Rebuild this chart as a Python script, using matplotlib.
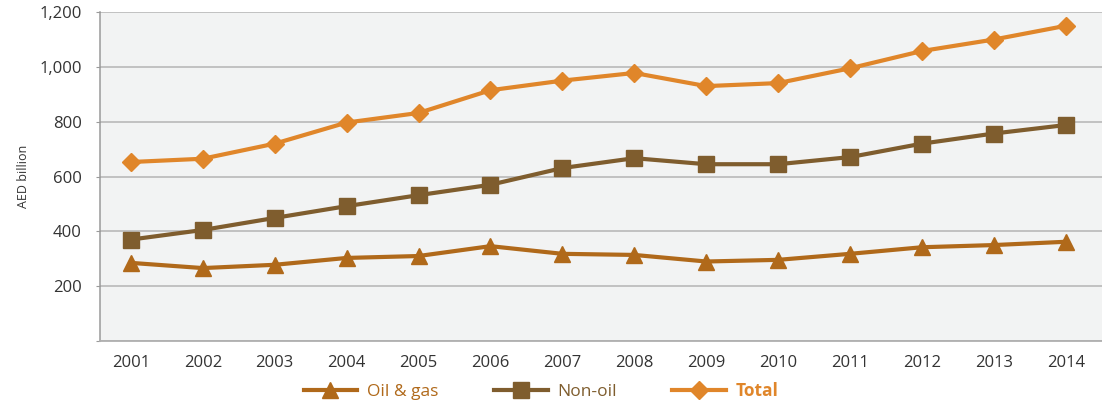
import matplotlib
matplotlib.use("Agg")
import matplotlib.pyplot as plt
from matplotlib.ticker import FuncFormatter

plt.rcParams['font.family'] = ['Open Sans', 'DejaVu Sans']

years = [2001, 2002, 2003, 2004, 2005, 2006, 2007, 2008, 2009, 2010, 2011, 2012, 2013, 2014]
oil_gas = [285, 266, 278, 303, 310, 346, 318, 314, 290, 296, 318, 342, 350, 362]
non_oil = [370, 405, 449, 492, 532, 570, 631, 667, 645, 645, 671, 720, 757, 788]
total = [653, 665, 720, 797, 832, 915, 950, 978, 930, 941, 995, 1058, 1100, 1150]

c_oil = '#b0691a'
c_non = '#7f5d2e'
c_tot = '#e0862a'

fig = plt.figure(figsize=(11.02, 4.04), dpi=100)
ax = fig.add_axes([0.0907, 0.156, 0.909, 0.814])
ax.set_facecolor('#f2f3f3')

x = list(range(len(years)))
l1, = ax.plot(x, oil_gas, color=c_oil, lw=3, marker='^', ms=12, label='Oil & gas')
l2, = ax.plot(x, non_oil, color=c_non, lw=3, marker='s', ms=11, label='Non-oil')
l3, = ax.plot(x, total, color=c_tot, lw=3, marker='D', ms=9.5, label='Total')

ax.set_ylim(0, 1200)
ax.set_yticks([0, 200, 400, 600, 800, 1000, 1200])
ax.yaxis.set_major_formatter(FuncFormatter(lambda v, p: '' if v == 0 else f'{int(v):,}'))
ax.set_xlim(-0.43, len(years) - 1 + 0.5)
ax.set_xticks(x)
ax.set_xticklabels([str(y) for y in years])

ax.grid(axis='y', color='#bdbdbd', lw=1.3)
ax.set_axisbelow(True)
for s in ['top', 'right']:
    ax.spines[s].set_visible(False)
ax.spines['left'].set_color('#9a9a9a')
ax.spines['bottom'].set_color('#b0b0b0')
ax.spines['left'].set_linewidth(1.1)
ax.spines['bottom'].set_linewidth(1.3)
ax.tick_params(axis='y', length=3, color='#9a9a9a', pad=10, labelsize=12, labelcolor='#333333')
ax.tick_params(axis='x', length=0, pad=10, labelsize=12, labelcolor='#333333')
ax.set_ylabel('AED billion', fontsize=9, color='#333333', labelpad=7)

leg = fig.legend(handles=[l1, l2, l3], loc='center', bbox_to_anchor=(0.491, 0.033),
                 ncol=3, frameon=False, fontsize=12.5, handlelength=3.1,
                 handletextpad=0.55, columnspacing=3.2)
for txt, c in zip(leg.get_texts(), [c_oil, c_non, c_tot]):
    txt.set_color(c)
leg.get_texts()[2].set_fontweight('bold')

fig.savefig('out.png', dpi=100)
